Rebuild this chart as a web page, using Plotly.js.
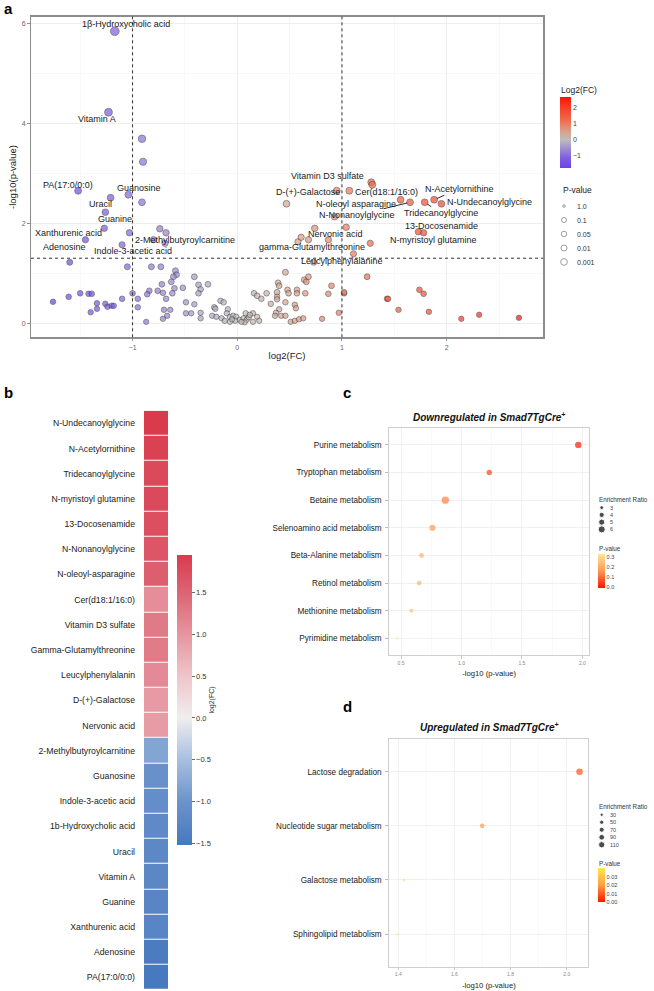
<!DOCTYPE html>
<html>
<head>
<meta charset="utf-8">
<script src="https://cdn.plot.ly/plotly-3.0.1.min.js"></script>
<style>
  html, body { margin: 0; padding: 0; background: #fff; }
  #fig { width: 654px; height: 991px; }
</style>
</head>
<body>
<div id="fig"></div>
<script>
// ---------- a: volcano plot ----------
// labelled metabolites
const namedMetabolites = [
  '1β-Hydroxycholic acid', 'Vitamin A', 'PA(17:0/0:0)', 'Guanosine', 'Uracil', 'Guanine',
  'Xanthurenic acid', 'Adenosine', 'Indole-3-acetic acid', '2-Methylbutyroylcarnitine',
  'Vitamin D3 sulfate', 'D-(+)-Galactose', 'Cer(d18:1/16:0)', 'N-oleoyl asparagine',
  'N-Nonanoylglycine', 'N-Acetylornithine', 'N-Undecanoylglycine', 'Tridecanoylglycine',
  '13-Docosenamide', 'N-myristoyl glutamine', 'Nervonic acid', 'gamma-Glutamylthreonine',
  'Leucylphenylalanine'
];
const namedLog2FC = [
  -1.17, -1.23, -1.52, -1.04, -1.21, -1.26, -1.27, -1.45, -1.10, -0.80,
  1.28, 0.95, 1.07, 1.56, 1.65, 1.88, 1.95, 1.79, 1.73, 1.78, 0.93, 1.27, 1.11
];
const namedNegLogP = [
  5.84, 4.22, 2.65, 2.57, 2.51, 2.22, 1.90, 1.67, 1.57, 1.67,
  2.82, 2.65, 2.65, 2.47, 2.42, 2.47, 2.39, 2.42, 1.83, 1.81, 2.13, 1.60, 1.39
];
// remaining (unlabelled) metabolites
const otherLog2FC = [
  -0.91, -0.90, -0.91, -1.03, -0.74, -0.68, -0.69, -1.60, -1.05, -0.82,
  -0.73, -0.59, -0.58, -0.61, -0.63, -0.41, -0.72, -0.52, -0.60, -0.84,
  -0.76, -0.71, -0.62, -0.86, -1.00, -0.95, -0.68, -0.49, -1.10, -0.95,
  -0.70, -0.64, -0.67, -0.71, -0.87, -0.49, -1.76, -1.61, -1.50, -1.42,
  -1.39, -1.34, -1.34, -1.40, -1.26, -1.24, -1.20, -1.18, -0.37, -0.35,
  -0.37, -0.28, -0.41, -0.44, -0.35, -0.35,
  -0.22, -0.21, -0.16, -0.13, -0.09, -0.24, -0.20, -0.15, -0.10, -0.07,
  -0.04, -0.01, 0.02, 0.06, 0.09, 0.08, 0.15, 0.19, 0.21, -0.07,
  -0.02, 0.07, 0.15, -0.12, 0.11, 0.04, -0.05, 0.12,
  0.16, 0.19, 0.23, 0.28, 0.39, 0.40, 0.38, 0.38, 0.46, 0.48,
  0.49, 0.57, 0.57, 0.65, 0.46, 0.55, 0.40, 0.37, 0.42, 0.46,
  0.51, 0.55, 0.59, 0.63, 0.81, 0.64, 0.68, 0.87, 0.47, 0.74,
  0.58, 0.61, 0.68, 0.87, 0.73, 1.04, 1.29, 1.24, 0.90, 1.02,
  1.02, 1.74, 1.78, 1.43, 1.44, 0.66, 0.32, 0.56, 0.36, 0.97,
  1.54, 1.83, 2.14, 2.31, 2.69, 0.38
];
const otherNegLogP = [
  3.69, 3.23, 2.42, 1.81, 1.89, 1.81, 1.60, 1.22, 1.13, 1.13,
  1.13, 1.05, 0.97, 0.93, 0.83, 0.93, 0.78, 0.71, 0.70, 0.65,
  0.65, 0.61, 0.60, 0.58, 0.60, 0.49, 0.49, 0.42, 0.49, 0.32,
  0.27, 0.27, 0.15, 0.09, 0.03, 0.20, 0.43, 0.53, 0.60, 0.59,
  0.59, 0.40, 0.29, 0.22, 0.39, 0.33, 0.35, 0.35, 0.77, 0.68,
  0.60, 0.78, 0.38, 0.20, 0.21, 0.10,
  0.32, 0.29, 0.45, 0.42, 0.28, 0.15, 0.13, 0.10, 0.20, 0.13,
  0.15, 0.13, 0.07, 0.10, 0.07, 0.20, 0.20, 0.13, 0.05, 0.03,
  0.05, 0.02, 0.03, 0.05, 0.12, 0.03, 0.08, 0.17,
  0.60, 0.55, 0.49, 0.60, 0.81, 0.75, 0.62, 0.53, 1.02, 0.67,
  0.60, 0.67, 0.60, 0.60, 0.42, 0.37, 0.28, 0.21, 0.15, 0.15,
  0.03, 0.05, 0.08, 0.10, 0.09, 0.87, 0.93, 0.59, 2.39, 1.90,
  1.63, 1.72, 1.67, 1.67, 1.22, 1.92, 2.77, 0.93, 0.75, 0.60,
  0.62, 0.67, 0.59, 0.49, 0.49, 0.83, 0.39, 0.30, 0.15, 0.21,
  0.27, 0.23, 0.09, 0.17, 0.11, 0.48
];
const fcCut = 1;          // |log2 FC| threshold
const pCut = 0.05;        // p-value threshold
const fcTicks = [-1, 0, 1, 2];
const pLegendLabels = ['1.0', '0.1', '0.05', '0.01', '0.001'];

// ---------- b: heatmap of significant metabolites ----------
const heatNames = [
  'N-Undecanoylglycine', 'N-Acetylornithine', 'Tridecanoylglycine', 'N-myristoyl glutamine',
  '13-Docosenamide', 'N-Nonanoylglycine', 'N-oleoyl-asparagine', 'Cer(d18:1/16:0)',
  'Vitamin D3 sulfate', 'Gamma-Glutamylthreonine', 'Leucylphenylalanin', 'D-(+)-Galactose',
  'Nervonic acid', '2-Methylbutyroylcarnitine', 'Guanosine', 'Indole-3-acetic acid',
  '1b-Hydroxycholic acid', 'Uracil', 'Vitamin A', 'Guanine', 'Xanthurenic acid',
  'Adenosine', 'PA(17:0/0:0)'
];
const heatLog2FC = [
  1.95, 1.88, 1.79, 1.78, 1.73, 1.65, 1.56, 1.07, 1.28, 1.27, 1.11, 0.95, 0.93,
  -0.80, -1.04, -1.10, -1.17, -1.21, -1.23, -1.26, -1.27, -1.45, -1.52
];
const heatTicks = [-1.5, -1.0, -0.5, 0.0, 0.5, 1.0, 1.5];

// ---------- c: pathways downregulated ----------
const pathwaysDown = [
  'Purine metabolism', 'Tryptophan metabolism', 'Betaine metabolism',
  'Selenoamino acid metabolism', 'Beta-Alanine metabolism', 'Retinol metabolism',
  'Methionine metabolism', 'Pyrimidine metabolism'
];
const downPValue = [0.0108, 0.0589, 0.136, 0.174, 0.214, 0.224, 0.260, 0.339];
const downEnrichment = [5.3, 4.2, 6.3, 5.0, 3.6, 3.5, 3.2, 2.0];
const downRatioLegend = [3, 4, 5, 6];
const downPTicks = [0, 0.1, 0.2, 0.3];

// ---------- d: pathways upregulated ----------
const pathwaysUp = [
  'Lactose degradation', 'Nucleotide sugar metabolism', 'Galactose metabolism',
  'Sphingolipid metabolism'
];
const upPValue = [0.0090, 0.0200, 0.0380, 0.0400];
const upEnrichment = [120, 60, 15, 10];
const upRatioLegend = [30, 50, 70, 90, 110];
const upPTicks = [0, 0.01, 0.02, 0.03];

// ---------- helpers ----------
const FONT = 'Liberation Sans, Arial, Helvetica, sans-serif';
const W = 654, H = 991;
const px = v => v / W;          // horizontal pixel -> paper fraction
const py = v => 1 - v / H;      // vertical pixel -> paper fraction
const neglog = p => -Math.log10(p);

function hexRgb(h) { const n = parseInt(h.slice(1), 16); return [(n >> 16) & 255, (n >> 8) & 255, n & 255]; }
function mix(c1, c2, t) {
  const a = hexRgb(c1), b = hexRgb(c2);
  return 'rgb(' + a.map((v, i) => Math.round(v + (b[i] - v) * t)).join(',') + ')';
}
// colour stops given in data units -> plotly colorscale over [lo, hi]
function scaleOver(stops, lo, hi) {
  const at = v => {
    if (v <= stops[0][0]) return mix(stops[0][1], stops[0][1], 0);
    for (let i = 1; i < stops.length; i++) {
      if (v <= stops[i][0]) {
        const t = (v - stops[i - 1][0]) / (stops[i][0] - stops[i - 1][0]);
        return mix(stops[i - 1][1], stops[i][1], t);
      }
    }
    const l = stops[stops.length - 1][1];
    return mix(l, l, 0);
  };
  const out = [[0, at(lo)]];
  stops.forEach(([v, c]) => { if (v > lo && v < hi) out.push([(v - lo) / (hi - lo), mix(c, c, 0)]); });
  out.push([1, at(hi)]);
  return out;
}

// purple - grey - red gradient for log2 FC (volcano)
const fcStops = [
  [-1.8, '#6a40ea'], [-1.2, '#7c5ae0'], [-0.6, '#9c88d2'], [0, '#bdbdbd'],
  [0.5, '#d8a290'], [1.0, '#ea7c5f'], [1.5, '#f25c3c'], [2.0, '#f74028'], [2.8, '#ff0a05']
];
// blue - white - red diverging map (heatmap)
const heatStops = [
  [-1.96, '#3a6fb6'], [-1.5, '#4879bf'], [-1.0, '#6b93cb'], [-0.5, '#a7bfdf'],
  [0, '#efeeee'], [0.5, '#efc5ca'], [1.0, '#e6959f'], [1.5, '#dd6474'], [1.96, '#d93a4c']
];
// red - yellow maps for pathway p-values
const downScale = [[0, '#ff1500'], [0.5, '#fb9a55'], [1, '#ffe596']];
const upScale = [[0, '#ff1500'], [0.5, '#ffa040'], [1, '#ffe84e']];

// marker sizes
const volcanoSize = v => 5.3 + 0.6 * v;
const pLegendSize = [2.5, 5, 5.5, 6, 6.7];
const downSize = r => Math.max(2.4, Math.sqrt(Math.max(0, 11.4 * r - 18.8)));
const upSize = r => Math.max(2.4, Math.sqrt(0.1 + 0.36 * r));

// ---------- traces ----------
const allFC = namedLog2FC.concat(otherLog2FC);
const allNLP = namedNegLogP.concat(otherNegLogP);
const fcMin = Math.min(...allFC), fcMax = Math.max(...allFC);
const heatMin = Math.min(...heatLog2FC), heatMax = Math.max(...heatLog2FC);

const traces = [];

traces.push({
  type: 'scatter', mode: 'markers', x: allFC, y: allNLP, xaxis: 'x', yaxis: 'y',
  hoverinfo: 'skip', showlegend: false,
  marker: {
    color: allFC, cmin: fcMin, cmax: fcMax, colorscale: scaleOver(fcStops, fcMin, fcMax),
    size: allNLP.map(volcanoSize), line: { color: '#333', width: 0.7 },
    colorbar: {
      x: px(560), xanchor: 'left', y: py(132.5), yanchor: 'middle',
      len: 71, lenmode: 'pixels', thickness: 11, thicknessmode: 'pixels',
      outlinewidth: 0, tickvals: fcTicks, ticks: '', xpad: 0, ypad: 0,
      tickfont: { family: FONT, size: 7, color: '#444' }
    }
  }
});

// p-value size key for the volcano plot
traces.push({
  type: 'scatter', mode: 'markers', xaxis: 'x5', yaxis: 'y5', hoverinfo: 'skip', showlegend: false,
  x: pLegendLabels.map(() => 8), y: pLegendLabels.map((_, i) => i),
  marker: { size: pLegendSize, color: '#ffffff', line: { color: '#555', width: 0.8 } }
});

traces.push({
  type: 'heatmap', xaxis: 'x2', yaxis: 'y2', hoverinfo: 'skip',
  x: ['log2(FC)'], y: heatNames, z: heatLog2FC.map(v => [v]),
  zmin: heatMin, zmax: heatMax, colorscale: scaleOver(heatStops, heatMin, heatMax),
  xgap: 0, ygap: 1,
  colorbar: {
    x: px(176.7), xanchor: 'left', y: py(700), yanchor: 'middle',
    len: 290, lenmode: 'pixels', thickness: 15, thicknessmode: 'pixels',
    outlinewidth: 0, xpad: 0, ypad: 0,
    tickvals: heatTicks, ticktext: heatTicks.map(v => v.toFixed(1).replace('-', '\u2212')),
    ticks: 'outside', ticklen: 3, tickcolor: '#444', tickwidth: 0.8,
    tickfont: { family: FONT, size: 7.5, color: '#333' },
    title: { text: 'log2(FC)', side: 'right', font: { family: FONT, size: 7, color: '#333' } }
  }
});

traces.push({
  type: 'scatter', mode: 'markers', xaxis: 'x3', yaxis: 'y3', hoverinfo: 'skip', showlegend: false,
  x: downPValue.map(neglog), y: pathwaysDown,
  marker: {
    color: downPValue, cmin: 0, cmax: Math.max(...downPValue), colorscale: downScale,
    size: downEnrichment.map(downSize), line: { width: 0 },
    colorbar: {
      x: px(597.7), xanchor: 'left', y: py(570.5), yanchor: 'middle',
      len: 34.4, lenmode: 'pixels', thickness: 6.5, thicknessmode: 'pixels',
      outlinewidth: 0, xpad: 0, ypad: 0, ticks: '',
      tickvals: downPTicks, ticktext: downPTicks.map(v => v.toFixed(1)),
      tickfont: { family: FONT, size: 5.5, color: '#444' }
    }
  }
});
traces.push({
  type: 'scatter', mode: 'markers', xaxis: 'x6', yaxis: 'y6', hoverinfo: 'skip', showlegend: false,
  x: downRatioLegend.map(() => 5.7), y: downRatioLegend.map((_, i) => i),
  marker: { size: downRatioLegend.map(downSize), color: '#000' }
});

traces.push({
  type: 'scatter', mode: 'markers', xaxis: 'x4', yaxis: 'y4', hoverinfo: 'skip', showlegend: false,
  x: upPValue.map(neglog), y: pathwaysUp,
  marker: {
    color: upPValue, cmin: 0, cmax: Math.max(...upPValue), colorscale: upScale,
    size: upEnrichment.map(upSize), line: { width: 0 },
    colorbar: {
      x: px(597.7), xanchor: 'left', y: py(885.3), yanchor: 'middle',
      len: 34, lenmode: 'pixels', thickness: 6.5, thicknessmode: 'pixels',
      outlinewidth: 0, xpad: 0, ypad: 0, ticks: '',
      tickvals: upPTicks, ticktext: upPTicks.map(v => v.toFixed(2)),
      tickfont: { family: FONT, size: 5.5, color: '#444' }
    }
  }
});
traces.push({
  type: 'scatter', mode: 'markers', xaxis: 'x7', yaxis: 'y7', hoverinfo: 'skip', showlegend: false,
  x: upRatioLegend.map(() => 5.7), y: upRatioLegend.map((_, i) => i),
  marker: { size: upRatioLegend.map(upSize), color: '#000' }
});

// ---------- annotations ----------
const annotations = [];
const txt = (size, color, extra) => Object.assign({ family: FONT, size: size, color: color || '#222' }, extra || {});

// label offsets in pixels (dx, dy) and whether a leader line is drawn
const labelPlacement = [
  [11, -7, 0], [-11, 7, 0], [-10, -6, 0], [11, -7, 0], [-10, 6, 0], [10, 7, 0],
  [-36, 5, 0], [-21, 7, 0], [11, 6, 0], [31, 0, 0],
  [-44, -6, 0], [-29, 1, 0], [37, 1, 0], [-45, 4, 0], [-53, 13, 1], [25, -11, 1],
  [48, -2, 0], [16, 11, 1], [23, -6, 0], [10, 7, 0], [1, 17, 0], [-58, 4, 0], [-11, 7, 0]
];
namedMetabolites.forEach((name, i) => {
  const [dx, dy, lead] = labelPlacement[i];
  const a = {
    xref: 'x', yref: 'y', x: namedLog2FC[i], y: namedNegLogP[i], text: name,
    font: txt(9, '#1a1a1a'), xanchor: 'center', yanchor: 'middle'
  };
  if (lead) Object.assign(a, { showarrow: true, arrowhead: 0, arrowwidth: 0.9, arrowcolor: '#111', ax: dx, ay: dy, standoff: 3 });
  else Object.assign(a, { showarrow: false, xshift: dx, yshift: -dy });
  annotations.push(a);
});

annotations.push({ xref: 'paper', yref: 'paper', x: px(559), y: py(90), text: 'Log2(FC)',
  showarrow: false, xanchor: 'left', yanchor: 'middle', font: txt(8.5, '#222') });
pLegendLabels.forEach((lab, i) => annotations.push({
  xref: 'x5', yref: 'y5', x: 19, y: i, text: lab, showarrow: false,
  xanchor: 'left', yanchor: 'middle', font: txt(7, '#333')
}));
annotations.push({ xref: 'paper', yref: 'paper', x: px(561), y: py(190), text: 'P-value',
  showarrow: false, xanchor: 'left', yanchor: 'middle', font: txt(8.5, '#222') });

downRatioLegend.forEach((v, i) => annotations.push({
  xref: 'x6', yref: 'y6', x: 11.5, y: i, text: String(v), showarrow: false,
  xanchor: 'left', yanchor: 'middle', font: txt(5.5, '#444')
}));
upRatioLegend.forEach((v, i) => annotations.push({
  xref: 'x7', yref: 'y7', x: 11.5, y: i, text: String(v), showarrow: false,
  xanchor: 'left', yanchor: 'middle', font: txt(5.5, '#444')
}));
[[499.3, 'Enrichment Ratio'], [548.3, 'P-value'], [806, 'Enrichment Ratio'], [863.7, 'P-value']].forEach(([y, t]) =>
  annotations.push({ xref: 'paper', yref: 'paper', x: px(597), y: py(y), text: t, showarrow: false,
    xanchor: 'left', yanchor: 'middle', font: txt(6.3, '#333') }));

[[416.5, 'Downregulated in Smad7TgCre<sup>+</sup>'], [727.3, 'Upregulated in Smad7TgCre<sup>+</sup>']].forEach(([y, t]) =>
  annotations.push({ xref: 'paper', yref: 'paper', x: px(489), y: py(y), text: '<b><i>' + t + '</i></b>',
    showarrow: false, xanchor: 'center', yanchor: 'middle', font: txt(10, '#111') }));

[['a', 2, 8], ['b', 2, 392], ['c', 341, 392], ['d', 341, 706]].forEach(([t, x, y]) =>
  annotations.push({ xref: 'paper', yref: 'paper', x: px(x), y: py(y), text: '<b>' + t + '</b>',
    showarrow: false, xanchor: 'left', yanchor: 'middle', font: txt(15, '#000') }));

// ---------- threshold lines ----------
const pLine = neglog(pCut);
const shapes = [
  { type: 'line', xref: 'x', yref: 'y domain', x0: -fcCut, x1: -fcCut, y0: 0, y1: 1, line: { color: '#333', width: 1, dash: 'dot' } },
  { type: 'line', xref: 'x', yref: 'y domain', x0: fcCut, x1: fcCut, y0: 0, y1: 1, line: { color: '#333', width: 1, dash: 'dot' } },
  { type: 'line', xref: 'x domain', yref: 'y', x0: 0, x1: 1, y0: pLine, y1: pLine, line: { color: '#333', width: 1, dash: 'dot' } }
];

// ---------- axes ----------
const hidden = { visible: false, fixedrange: true };
const pathX = (extra) => Object.assign({
  ticks: 'outside', ticklen: 2.5, tickcolor: '#bbb', tickwidth: 0.8,
  tickfont: { family: FONT, size: 5, color: '#888' },
  showgrid: true, gridcolor: '#ececec', gridwidth: 0.8,
  showline: true, mirror: true, linecolor: '#cfcfcf', linewidth: 1, zeroline: false,
  title: { text: '-log10 (p-value)', font: { family: FONT, size: 7.7, color: '#222' }, standoff: 6 }
}, extra);
const pathY = (extra) => Object.assign({
  type: 'category', ticks: 'outside', ticklen: 3, tickcolor: '#aaa', tickwidth: 0.8,
  tickfont: { family: FONT, size: 8.2, color: '#1a1a1a' }, ticklabelstandoff: 2,
  showgrid: true, gridcolor: '#ececec', gridwidth: 0.8,
  showline: true, mirror: true, linecolor: '#cfcfcf', linewidth: 1, zeroline: false
}, extra);

const layout = {
  width: W, height: H, margin: { l: 0, r: 0, t: 0, b: 0 },
  paper_bgcolor: '#fff', plot_bgcolor: '#fff', showlegend: false,
  font: { family: FONT },
  xaxis: {
    anchor: 'y', domain: [px(31), px(543)], range: [-1.97, 2.92], tick0: 0, dtick: 1,
    ticks: 'outside', ticklen: 2.5, tickcolor: '#777', tickwidth: 0.8,
    tickfont: { family: FONT, size: 7, color: '#666' },
    showgrid: true, gridcolor: '#e9e9e9', gridwidth: 0.8,
    minor: { dtick: 0.5, showgrid: true, gridcolor: '#f3f3f3', gridwidth: 0.6 },
    showline: true, mirror: true, linecolor: '#8c8c8c', linewidth: 1.5, zeroline: false,
    title: { text: 'log2(FC)', font: { family: FONT, size: 9.5, color: '#222' }, standoff: 2 }
  },
  yaxis: {
    anchor: 'x', domain: [py(337.3), py(16.7)], range: [-0.28, 6.13], tick0: 0, dtick: 2,
    ticks: 'outside', ticklen: 2.5, tickcolor: '#777', tickwidth: 0.8,
    tickfont: { family: FONT, size: 7, color: '#666' },
    showgrid: true, gridcolor: '#e9e9e9', gridwidth: 0.8,
    minor: { dtick: 1, showgrid: true, gridcolor: '#f3f3f3', gridwidth: 0.6 },
    showline: true, mirror: true, linecolor: '#8c8c8c', linewidth: 1.5, zeroline: false,
    title: { text: '-log10(p-value)', font: { family: FONT, size: 9.5, color: '#222' }, standoff: 3 }
  },
  xaxis2: { anchor: 'y2', domain: [px(144), px(168.3)], showticklabels: false, ticks: '', showgrid: false, zeroline: false, showline: false, fixedrange: true },
  yaxis2: {
    anchor: 'x2', domain: [py(990), py(410.7)], type: 'category', autorange: 'reversed',
    ticks: '', ticklabelstandoff: 8, showgrid: false, zeroline: false, showline: false,
    tickfont: { family: FONT, size: 8.7, color: '#222' }
  },
  xaxis3: pathX({ anchor: 'y3', domain: [px(389.3), px(589)], range: [0.403, 2.055], tick0: 0.5, dtick: 0.5, tickformat: '.1f',
    minor: { dtick: 0.25, showgrid: true, gridcolor: '#f5f5f5', gridwidth: 0.6 } }),
  yaxis3: pathY({ anchor: 'x3', domain: [py(655), py(428.3)], range: [pathwaysDown.length - 0.4, -0.6] }),
  xaxis4: pathX({ anchor: 'y4', domain: [px(389.3), px(588.3)], range: [1.368, 2.077], tick0: 1.4, dtick: 0.2, tickformat: '.1f',
    minor: { dtick: 0.1, showgrid: true, gridcolor: '#f5f5f5', gridwidth: 0.6 } }),
  yaxis4: pathY({ anchor: 'x4', domain: [py(966.5), py(739.3)], range: [pathwaysUp.length - 0.4, -0.6] }),
  xaxis5: Object.assign({ anchor: 'y5', domain: [px(556), px(640)], range: [0, 84] }, hidden),
  yaxis5: Object.assign({ anchor: 'x5', domain: [py(269), py(199)], range: [pLegendLabels.length - 0.5, -0.5] }, hidden),
  xaxis6: Object.assign({ anchor: 'y6', domain: [px(596), px(652)], range: [0, 56] }, hidden),
  yaxis6: Object.assign({ anchor: 'x6', domain: [py(533), py(504)], range: [downRatioLegend.length - 0.5, -0.5] }, hidden),
  xaxis7: Object.assign({ anchor: 'y7', domain: [px(596), px(652)], range: [0, 56] }, hidden),
  yaxis7: Object.assign({ anchor: 'x7', domain: [py(848.5), py(811)], range: [upRatioLegend.length - 0.5, -0.5] }, hidden),
  annotations: annotations,
  shapes: shapes
};

Plotly.newPlot('fig', traces, layout, { staticPlot: true, displayModeBar: false });
</script>
</body>
</html>
